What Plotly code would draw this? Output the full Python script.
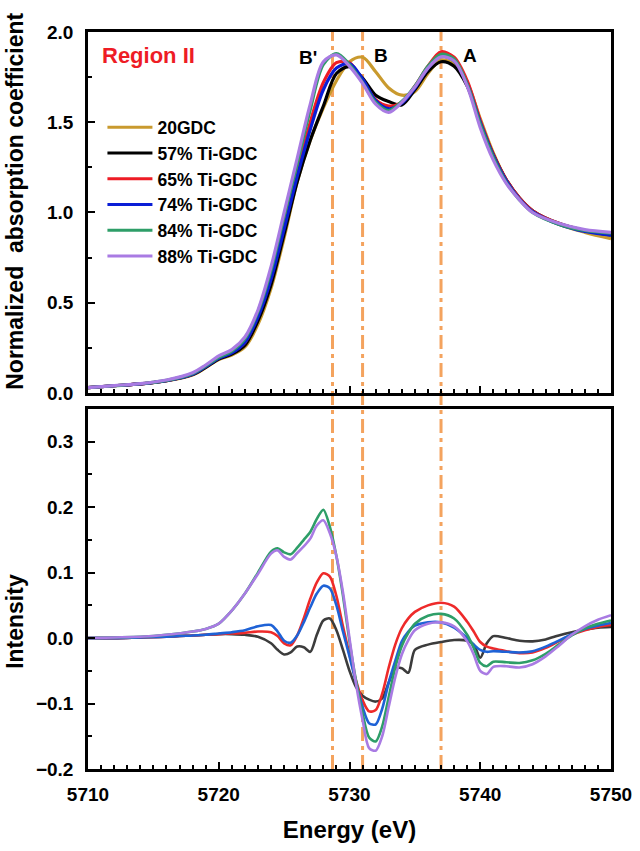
import plotly.graph_objects as go

# ---------------- data ----------------
names = ["20GDC", "57% Ti-GDC", "65% Ti-GDC", "74% Ti-GDC", "84% Ti-GDC", "88% Ti-GDC"]
colors_top = ["#C99A2E", "#000000", "#EE1C25", "#0A1ED6", "#2E9E68", "#A97BE3"]

E_top = [5710, 5712, 5714, 5716, 5718, 5719, 5720, 5721, 5722, 5723, 5724, 5725, 5726, 5727,
         5728, 5729, 5730, 5731, 5732, 5733, 5734, 5735, 5736, 5737, 5738, 5739, 5740, 5741,
         5742, 5743, 5744, 5746, 5748, 5750]

mu_20gdc = [0.030, 0.040, 0.050, 0.068, 0.100, 0.140, 0.185, 0.210, 0.255, 0.380, 0.580, 0.860,
            1.170, 1.400, 1.580, 1.730, 1.835, 1.860, 1.780, 1.690, 1.650, 1.670, 1.770, 1.845,
            1.820, 1.720, 1.520, 1.330, 1.180, 1.080, 1.010, 0.935, 0.890, 0.855]
mu_57 = [0.030, 0.040, 0.050, 0.068, 0.102, 0.142, 0.188, 0.215, 0.265, 0.400, 0.600, 0.880,
         1.170, 1.400, 1.590, 1.770, 1.808, 1.745, 1.650, 1.615, 1.596, 1.680, 1.780, 1.835,
         1.810, 1.700, 1.500, 1.320, 1.180, 1.080, 1.010, 0.940, 0.900, 0.875]
mu_65 = [0.030, 0.040, 0.050, 0.068, 0.105, 0.148, 0.195, 0.225, 0.280, 0.430, 0.640, 0.930,
         1.220, 1.500, 1.720, 1.830, 1.830, 1.730, 1.625, 1.590, 1.610, 1.700, 1.810, 1.890,
         1.860, 1.730, 1.510, 1.320, 1.180, 1.080, 1.010, 0.940, 0.900, 0.880]
mu_74 = [0.030, 0.040, 0.050, 0.068, 0.104, 0.146, 0.192, 0.222, 0.280, 0.420, 0.630, 0.910,
         1.200, 1.460, 1.680, 1.800, 1.825, 1.740, 1.620, 1.575, 1.605, 1.690, 1.800, 1.865,
         1.840, 1.710, 1.500, 1.315, 1.175, 1.075, 1.005, 0.935, 0.895, 0.875]
mu_84 = [0.030, 0.040, 0.051, 0.070, 0.108, 0.150, 0.198, 0.232, 0.300, 0.450, 0.680, 0.980,
         1.270, 1.570, 1.820, 1.880, 1.820, 1.720, 1.610, 1.565, 1.615, 1.700, 1.810, 1.877,
         1.850, 1.710, 1.490, 1.305, 1.165, 1.070, 1.000, 0.935, 0.900, 0.885]
mu_88 = [0.030, 0.041, 0.052, 0.072, 0.112, 0.155, 0.205, 0.240, 0.310, 0.460, 0.700, 1.000,
         1.300, 1.600, 1.835, 1.873, 1.810, 1.716, 1.600, 1.555, 1.610, 1.695, 1.800, 1.862,
         1.840, 1.700, 1.470, 1.290, 1.160, 1.070, 1.000, 0.940, 0.905, 0.890]

E_bot = [5710, 5712, 5714, 5716, 5718, 5719, 5720, 5721, 5722, 5723,
         5724, 5724.5, 5725, 5725.5, 5726, 5726.5, 5727, 5727.5, 5728, 5728.5,
         5729, 5729.5, 5730, 5730.5, 5731, 5731.5, 5732, 5732.5, 5733, 5733.5,
         5734, 5734.5, 5735, 5736, 5737, 5738, 5739, 5739.5, 5740, 5740.5,
         5741, 5742, 5743, 5744, 5745, 5746, 5747, 5748, 5749, 5750]

d_57 = [0.000, 0.000, 0.001, 0.002, 0.004, 0.005, 0.006, 0.006, 0.005, 0.002,
        -0.008, -0.018, -0.025, -0.022, -0.013, -0.014, -0.021, 0.005, 0.027, 0.030,
        0.012, -0.018, -0.050, -0.075, -0.088, -0.094, -0.097, -0.092, -0.068, -0.046,
        -0.046, -0.053, -0.018, -0.010, -0.006, -0.003, -0.004, -0.010, -0.030, -0.008,
        0.003, 0.000, -0.004, -0.005, -0.002, 0.004, 0.009, 0.013, 0.016, 0.017]
d_65 = [0.000, 0.000, 0.001, 0.002, 0.004, 0.005, 0.006, 0.007, 0.008, 0.010,
        0.009, 0.003, -0.008, -0.011, 0.004, 0.030, 0.060, 0.085, 0.099, 0.094,
        0.064, 0.018, -0.025, -0.065, -0.095, -0.112, -0.110, -0.085, -0.045, -0.010,
        0.015, 0.030, 0.040, 0.050, 0.054, 0.048, 0.025, 0.010, -0.006, -0.013,
        -0.016, -0.020, -0.023, -0.022, -0.015, -0.005, 0.005, 0.012, 0.017, 0.020]
d_74 = [0.000, 0.000, 0.001, 0.002, 0.004, 0.005, 0.007, 0.009, 0.012, 0.018,
        0.020, 0.010, -0.004, -0.007, 0.004, 0.024, 0.047, 0.068, 0.080, 0.076,
        0.050, 0.010, -0.028, -0.068, -0.105, -0.130, -0.132, -0.108, -0.068, -0.035,
        -0.005, 0.010, 0.019, 0.024, 0.024, 0.016, 0.000, -0.010, -0.018, -0.021,
        -0.020, -0.021, -0.022, -0.020, -0.013, -0.004, 0.006, 0.014, 0.019, 0.023]
d_84 = [0.000, 0.001, 0.002, 0.005, 0.010, 0.014, 0.022, 0.042, 0.068, 0.100,
        0.132, 0.137, 0.131, 0.128, 0.138, 0.150, 0.162, 0.182, 0.196, 0.170,
        0.125, 0.065, -0.005, -0.065, -0.115, -0.152, -0.158, -0.135, -0.090, -0.045,
        -0.012, 0.008, 0.022, 0.034, 0.037, 0.030, 0.005, -0.015, -0.038, -0.043,
        -0.036, -0.037, -0.038, -0.034, -0.024, -0.010, 0.004, 0.015, 0.022, 0.027]
d_88 = [0.000, 0.001, 0.002, 0.005, 0.010, 0.014, 0.022, 0.042, 0.068, 0.098,
        0.129, 0.134, 0.124, 0.120, 0.130, 0.140, 0.152, 0.172, 0.180, 0.160,
        0.125, 0.070, 0.000, -0.070, -0.125, -0.168, -0.172, -0.150, -0.105, -0.060,
        -0.025, -0.003, 0.012, 0.022, 0.024, 0.018, -0.005, -0.025, -0.050, -0.055,
        -0.044, -0.043, -0.045, -0.040, -0.028, -0.012, 0.005, 0.018, 0.028, 0.035]

bot_names = ["57% Ti-GDC", "65% Ti-GDC", "74% Ti-GDC", "84% Ti-GDC", "88% Ti-GDC"]
colors_bot = ["#3C3C3C", "#EE2A2A", "#1E62D6", "#2E9E68", "#A97BE3"]

ref_lines = [5728.7, 5731.0, 5737.0]
peak_labels = ["B'", "B", "A"]
peak_label_x = [5726.8, 5732.4, 5739.2]
peak_label_y = [1.86, 1.87, 1.87]

# ---------------- figure ----------------
FONT = "Arial, Liberation Sans, sans-serif"
fig = go.Figure()

top_series = [mu_20gdc, mu_57, mu_65, mu_74, mu_84, mu_88]
for nm, col, ys in zip(names, colors_top, top_series):
    fig.add_trace(go.Scatter(x=E_top, y=ys, name=nm, mode="lines",
                             line=dict(color=col, width=3.2, shape="spline", smoothing=0.9),
                             xaxis="x", yaxis="y"))

bot_series = [d_57, d_65, d_74, d_84, d_88]
for nm, col, ys in zip(bot_names, colors_bot, bot_series):
    fig.add_trace(go.Scatter(x=E_bot, y=ys, name=nm, mode="lines", showlegend=False,
                             line=dict(color=col, width=2.6, shape="spline", smoothing=0.8),
                             xaxis="x2", yaxis="y2"))

for xv in ref_lines:
    fig.add_shape(type="line", xref="x", yref="paper", x0=xv, x1=xv, y0=0, y1=1,
                  line=dict(color="#F4A35E", width=3, dash="14px,5px,4px,5px"), layer="below")

for t, xv, yv in zip(peak_labels, peak_label_x, peak_label_y):
    fig.add_annotation(x=xv, y=yv, xref="x", yref="y", text=t, showarrow=False,
                       font=dict(family=FONT, size=19, color="black", weight="bold"))

fig.add_annotation(x=5710.9, y=1.87, xref="x", yref="y", text="Region II", showarrow=False,
                   xanchor="left", yanchor="middle",
                   font=dict(family=FONT, size=22, color="#EE1C25", weight="bold"))

fig.add_annotation(x=-0.141, y=0.77, xref="paper", yref="paper", text="Normalized  absorption coefficient",
                   textangle=-90, showarrow=False, xanchor="center", yanchor="middle",
                   font=dict(family=FONT, size=23, color="black", weight="bold"))
fig.add_annotation(x=-0.141, y=0.2, xref="paper", yref="paper", text="Intensity",
                   textangle=-90, showarrow=False, xanchor="center", yanchor="middle",
                   font=dict(family=FONT, size=23, color="black", weight="bold"))

tickfont = dict(family=FONT, size=19, color="black", weight="bold")
common_x = dict(range=[5710, 5750], dtick=10, tick0=5710, ticks="inside", ticklen=7, tickwidth=2,
                tickcolor="black", showline=True, mirror=True, linewidth=2.5, linecolor="black",
                showgrid=False, zeroline=False, automargin=False,
                minor=dict(dtick=1, ticks="inside", ticklen=4, tickwidth=1.5, tickcolor="black"))
common_y = dict(ticks="inside", ticklen=7, tickwidth=2, tickcolor="black", showline=True, mirror=True,
                linewidth=2.5, linecolor="black", showgrid=False, zeroline=False, tickformat=".1f",
                tickfont=tickfont, ticklabelstandoff=8, automargin=False)

fig.update_layout(
    width=640, height=851,
    margin=dict(l=88, r=29, t=32, b=82),
    paper_bgcolor="white", plot_bgcolor="rgba(0,0,0,0)",
    xaxis=dict(common_x, anchor="y", domain=[0, 1], showticklabels=False),
    yaxis=dict(common_y, anchor="x", domain=[0.5102, 1.0], range=[0, 2], dtick=0.5, tick0=0,
               minor=dict(dtick=0.25, ticks="inside", ticklen=4, tickwidth=1.5, tickcolor="black")),
    xaxis2=dict(common_x, anchor="y2", domain=[0, 1], showticklabels=True, tickfont=tickfont,
                ticklabelstandoff=6,
                title=dict(text="Energy (eV)", font=dict(family=FONT, size=24, color="black", weight="bold"),
                           standoff=18)),
    yaxis2=dict(common_y, anchor="x2", domain=[0, 0.4885], range=[-0.2, 0.35], dtick=0.1, tick0=-0.2,
                minor=dict(dtick=0.05, ticks="inside", ticklen=4, tickwidth=1.5, tickcolor="black")),
    legend=dict(x=0.0276, y=0.895, xanchor="left", yanchor="top", bgcolor="rgba(0,0,0,0)",
                font=dict(family=FONT, size=17.5, color="black", weight="bold"),
                itemwidth=45, tracegroupgap=0),
    showlegend=True,
)

# remove the default page margin so the figure sits at the window's top-left corner
fig.write_html("out.html", config={"displayModeBar": False},
               post_script="document.body.style.margin='0';document.body.style.padding='0';")
